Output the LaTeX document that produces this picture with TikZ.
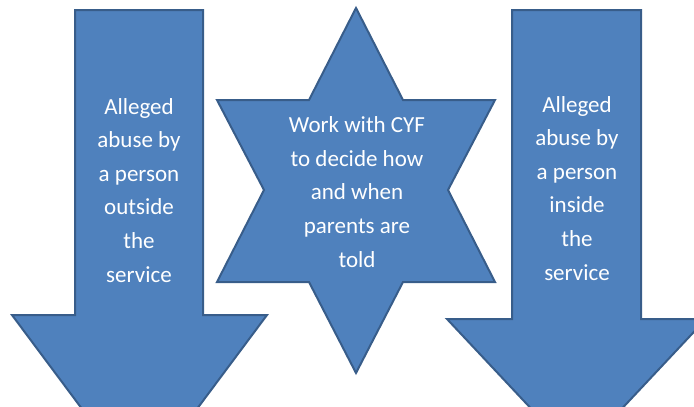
\documentclass[tikz,border=0pt]{standalone}
\usepackage{fontspec}
\setmainfont{Carlito}
\definecolor{shapeblue}{HTML}{4F81BD}
\definecolor{edgeblue}{HTML}{385D8A}

\begin{document}
\begin{tikzpicture}[x=1pt, y=-1pt, shape fill/.style={fill=shapeblue, draw=edgeblue, line width=2pt, line join=miter}, label text/.style={text=white, align=center, anchor=base, inner sep=0pt, font=\fontsize{23}{33.6}\selectfont}]

                        \useasboundingbox (0,0) rectangle (694,407);
                        \clip (0,0) rectangle (694,407);

                        % left arrow
                        \draw[shape fill] (75,10) -- (203,10) -- (203,315) -- (267,315) -- (139.5,486) -- (12,315) -- (75,315) -- cycle;
                        % right arrow
                        \draw[shape fill] (512,10) -- (641,10) -- (641,319) -- (706,319) -- (576.5,457) -- (447,319) -- (512,319) -- cycle;
                        % six pointed star
                        \draw[shape fill] (356,8) -- (403,100) -- (495,100) -- (448,190) -- (495,282) -- (403,282) -- (356,373) -- (309,282) -- (217,282) -- (264,190) -- (217,100) -- (309,100) -- cycle;

                        % base of a multi-line node is its last line
                        \node[label text] at (139, 282) (outside) {Alleged\\abuse by\\a person\\outside\\the\\service};
                        \node[label text] at (357, 267) (cyf) {Work with CYF\\to decide how\\and when\\parents are\\told};
                        \node[label text] at (577, 280) (inside) {Alleged\\abuse by\\a person\\inside\\the\\service};

                    \end{tikzpicture}
\end{document}
